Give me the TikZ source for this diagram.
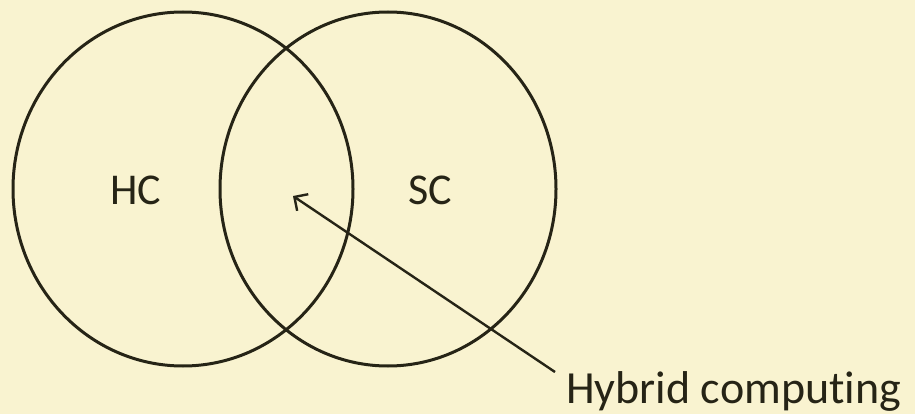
\documentclass[tikz,border=0pt]{standalone}
\usepackage{fontspec}
\setmainfont{Carlito}[Ligatures={NoCommon}]
\usetikzlibrary{arrows.meta}
\definecolor{bg}{RGB}{249,243,208}
\definecolor{ink}{RGB}{38,36,22}
\begin{document}
\begin{tikzpicture}[x=1pt,y=-1pt,
  setline/.style={draw=ink,line width=3pt},
  lbl/.style={text=ink,font=\fontsize{44}{52}\selectfont,inner sep=0pt},
  pointer/.style={draw=ink,line width=2.4pt,-{Straight Barb[length=10pt,width=20pt,line width=2.4pt]}}]
\fill[bg] (0,0) rectangle (915,414);
\useasboundingbox (0,0) rectangle (915,414);
\draw[setline] (183,189) ellipse [x radius=170,y radius=177];
\draw[setline] (388,189) ellipse [x radius=168,y radius=177];
\node[lbl] (hc) at (136,190) {HC};
\node[lbl] (sc) at (430,190) {SC};
\node[lbl,anchor=base west,font=\fontsize{46}{54}\selectfont] (hyb) at (566,403) {Hybrid computing};
\coordinate (tail) at (555,372);
\coordinate (tip) at (293,196);
\draw[pointer] (tail) -- (tip);
\end{tikzpicture}
\end{document}
